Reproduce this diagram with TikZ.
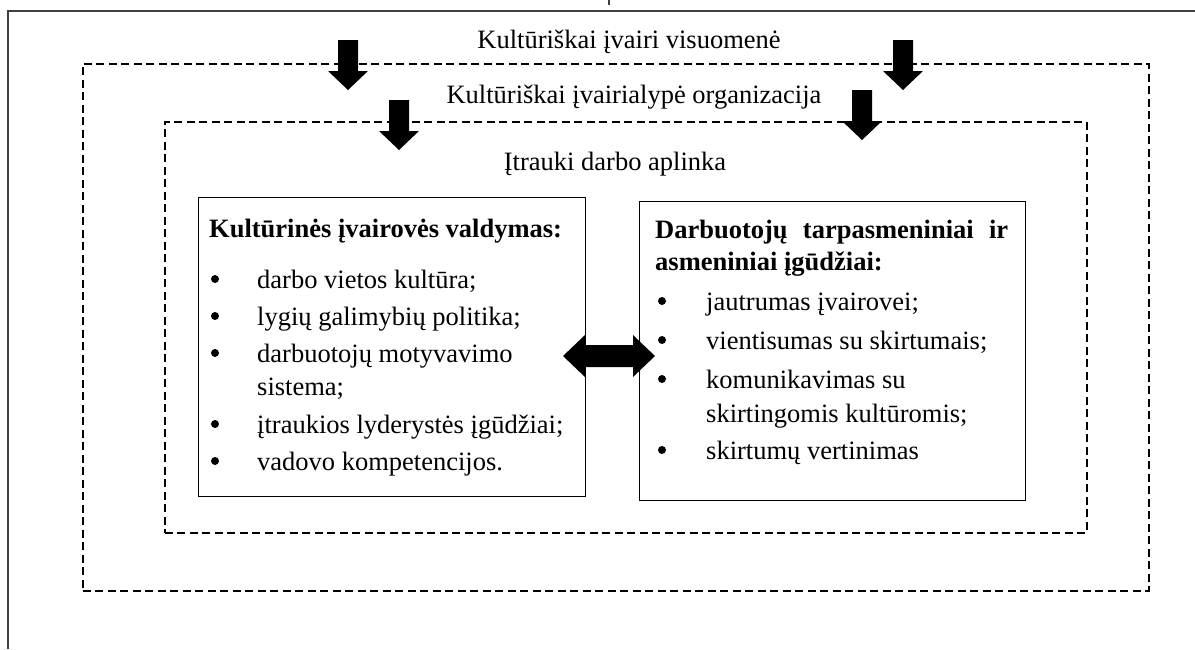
\documentclass[tikz,border=0pt]{standalone}
\usepackage{fontspec}
\setmainfont{Liberation Serif}
\begin{document}
\begin{tikzpicture}[x=1pt,y=1pt,
  txt/.style={inner sep=0pt, font=\fontsize{26.5}{33}\selectfont},
  hd/.style={txt, font=\fontsize{26.5}{33}\selectfont\bfseries},
  bul/.style={circle, fill=black, inner sep=0pt, minimum size=8pt},
  box/.style={draw=black, line width=1.4pt, inner sep=0pt, anchor=north west},
  dbox/.style={draw=black, line width=1.5pt, dash pattern=on 8pt off 4.5pt, inner sep=0pt, anchor=north west},
  downarr/.pic={\fill[black] (-10,0) -- (10,0) -- (10,-31) -- (20,-31) -- (0,-50) -- (-20,-31) -- (-10,-31) -- cycle;}]
\useasboundingbox (0,0) rectangle (1195,-649);
\fill[white] (0,0) rectangle (1195,-649);
% outer frame
\draw[line width=2pt, draw=black!75] (8,-649) -- (8,-11) -- (1195,-11);
\draw[line width=1.5pt, draw=black!75] (609,0) -- (609,-5);
% dashed regions
\node[dbox, minimum width=1066pt, minimum height=527pt] (soc) at (82,-63) {};
\node[dbox, minimum width=922pt, minimum height=411pt] (org) at (164,-121) {};
% boxes
\node[box, minimum width=387pt, minimum height=299pt] (L) at (198,-197) {};
\node[box, minimum width=386pt, minimum height=299pt] (R) at (639,-201) {};
% down arrows
\pic at (348,-40) {downarr};
\pic at (903,-40) {downarr};
\pic at (399,-100) {downarr};
\pic at (862,-90) {downarr};
% double arrow between boxes
\fill[black] (563,-356) -- (585,-335) -- (585,-345) -- (633,-345) -- (633,-335) -- (655,-356)
  -- (633,-377) -- (633,-367) -- (585,-367) -- (585,-377) -- cycle;
% titles
\node[txt, anchor=base] (t1) at (629,-48) {Kultūriškai įvairi visuomenė};
\node[txt, anchor=base] (t2) at (634,-103) {Kultūriškai įvairialypė organizacija};
\node[txt, anchor=base] (t3) at (615,-170) {Įtrauki darbo aplinka};
% left box content
\node[hd, anchor=base west] (lh) at (209,-237) {Kultūrinės įvairovės valdymas:};
\foreach \yy/\tt [count=\i] in {288/darbo vietos kultūra;, 325/lygių galimybių politika;, 362/darbuotojų motyvavimo, 433/įtraukios lyderystės įgūdžiai;, 470/vadovo kompetencijos.}{
  \node[bul] (lb\i) at (215,-\yy+9) {};
  \node[txt, anchor=base west] (lt\i) at (257,-\yy) {\tt};
}
\node[txt, anchor=base west] (ltc) at (257,-395) {sistema;};
% right box content
\node[hd, anchor=base west] (rh1) at (655,-238) {\makebox[353pt][s]{Darbuotojų tarpasmeniniai ir}};
\node[hd, anchor=base west] (rh2) at (655,-270) {asmeniniai įgūdžiai:};
\foreach \yy/\tt [count=\i] in {310/jautrumas įvairovei;, 349/vientisumas su skirtumais;, 388/komunikavimas su, 459/skirtumų vertinimas}{
  \node[bul] (rb\i) at (662,-\yy+9) {};
  \node[txt, anchor=base west] (rt\i) at (706,-\yy) {\tt};
}
\node[txt, anchor=base west] (rtc) at (706,-422) {skirtingomis kultūromis;};
\end{tikzpicture}
\end{document}
